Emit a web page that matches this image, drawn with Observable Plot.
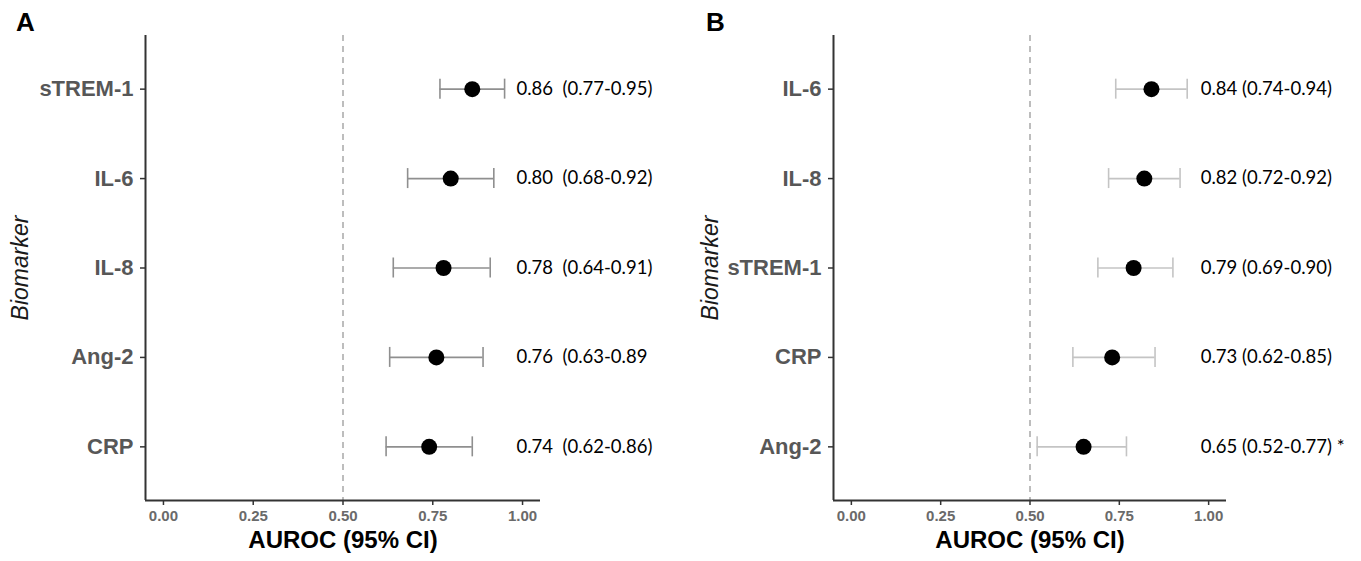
<!DOCTYPE html>
<html>
<head>
<meta charset="utf-8">
<script src="https://cdn.jsdelivr.net/npm/d3@7"></script>
<script src="https://cdn.jsdelivr.net/npm/@observablehq/plot@0.6"></script>
<style>
  body { margin: 0; background: #fff; }
  #wrap { position: relative; width: 1361px; height: 561px; overflow: hidden; }
  .panel { position: absolute; top: 0; }
  .letter { position: absolute; font: bold 26px "Liberation Sans", Arial, sans-serif; color: #000; }
</style>
</head>
<body>
<div id="wrap">
  <div class="panel" id="pA" style="left:0px"></div>
  <div class="panel" id="pB" style="left:680px"></div>
  <div class="letter" style="left:16px; top:7px">A</div>
  <div class="letter" style="left:706px; top:7px">B</div>
</div>
<script>
// ---- Panel A data ----
const namesA = ["sTREM-1", "IL-6", "IL-8", "Ang-2", "CRP"];
const aucA   = [0.86, 0.80, 0.78, 0.76, 0.74];
const loA    = [0.77, 0.68, 0.64, 0.63, 0.62];
const hiA    = [0.95, 0.92, 0.91, 0.89, 0.86];
const labelsA = ["0.86  (0.77-0.95)", "0.80  (0.68-0.92)", "0.78  (0.64-0.91)", "0.76  (0.63-0.89", "0.74  (0.62-0.86)"];

// ---- Panel B data ----
const namesB = ["IL-6", "IL-8", "sTREM-1", "CRP", "Ang-2"];
const aucB   = [0.84, 0.82, 0.79, 0.73, 0.65];
const loB    = [0.74, 0.72, 0.69, 0.62, 0.52];
const hiB    = [0.94, 0.92, 0.90, 0.85, 0.77];
const labelsB = ["0.84 (0.74-0.94)", "0.82 (0.72-0.92)", "0.79 (0.69-0.90)", "0.73 (0.62-0.85)", "0.65 (0.52-0.77) *"];

const xTicks = [0, 0.25, 0.5, 0.75, 1];
const refLine = [0.5];

function panel(names, auc, lo, hi, labels, cfg) {
  const rows = names.map((n, i) => ({name: n, idx: i + 1, auc: auc[i], lo: lo[i], hi: hi[i], label: labels[i]}));
  const xDomain = [-0.05, 1.05];
  const yDomain = [0.4, names.length + 0.6];
  return Plot.plot({
    width: cfg.width,
    height: 561,
    marginLeft: cfg.marginLeft,
    marginRight: cfg.marginRight,
    marginTop: 35,
    marginBottom: 61,
    style: {fontFamily: "'Liberation Sans', Arial, sans-serif", background: "#fff", overflow: "visible"},
    x: {domain: xDomain, axis: null},
    y: {domain: yDomain, reverse: true, axis: null},
    marks: [
      Plot.ruleX(refLine, {stroke: "#9a9a9a", strokeWidth: 1.3, strokeDasharray: "6,5"}),
      Plot.axisX({ticks: xTicks, tickFormat: d3.format(".2f"), tickSize: 5, tickPadding: 5,
        fontSize: 15, fontWeight: "bold", fill: "#6a6a6a", stroke: "#333", strokeWidth: 1.5, label: null}),
      Plot.axisY({ticks: rows.map(d => d.idx), tickFormat: i => names[i - 1], tickSize: 5, tickPadding: 7,
        fontSize: 22, fontWeight: "bold", fill: "#575757", stroke: "#333", strokeWidth: 1.5, label: null}),
      Plot.ruleX([xDomain[0]], {stroke: "#333", strokeWidth: 2}),
      Plot.ruleY([yDomain[1]], {stroke: "#333", strokeWidth: 2}),
      Plot.ruleY(rows, {y: "idx", x1: "lo", x2: "hi", stroke: cfg.barColor, strokeWidth: 1.6}),
      Plot.ruleX(rows, {x: "lo", y1: "idx", y2: "idx", insetTop: -10, insetBottom: -10, stroke: cfg.barColor, strokeWidth: 1.6}),
      Plot.ruleX(rows, {x: "hi", y1: "idx", y2: "idx", insetTop: -10, insetBottom: -10, stroke: cfg.barColor, strokeWidth: 1.6}),
      Plot.dot(rows, {x: "auc", y: "idx", r: 8, fill: "#000", stroke: "none"}),
      Plot.text(rows, {x: () => cfg.labelX, y: "idx", text: "label", textAnchor: "start",
        fontFamily: "Lato, 'Open Sans', sans-serif", fontSize: 18.5, fill: "#000"}),
      Plot.text(["AUROC (95% CI)"], {frameAnchor: "bottom", dy: 47, fontSize: 24, fontWeight: "bold", fill: "#000"}),
      Plot.text(["Biomarker"], {frameAnchor: "left", textAnchor: "middle", dx: cfg.titleDx, rotate: -90, fontSize: 23, fontStyle: "italic", fill: "#1a1a1a"})
    ]
  });
}

document.getElementById("pA").appendChild(panel(namesA, aucA, loA, hiA, labelsA,
  {width: 680, marginLeft: 145, marginRight: 140, barColor: "#8f8f8f", labelX: 0.983, titleDx: -125}));
document.getElementById("pB").appendChild(panel(namesB, aucB, loB, hiB, labelsB,
  {width: 681, marginLeft: 153, marginRight: 135, barColor: "#c4c4c4", labelX: 0.978, titleDx: -123}));
</script>
</body>
</html>
